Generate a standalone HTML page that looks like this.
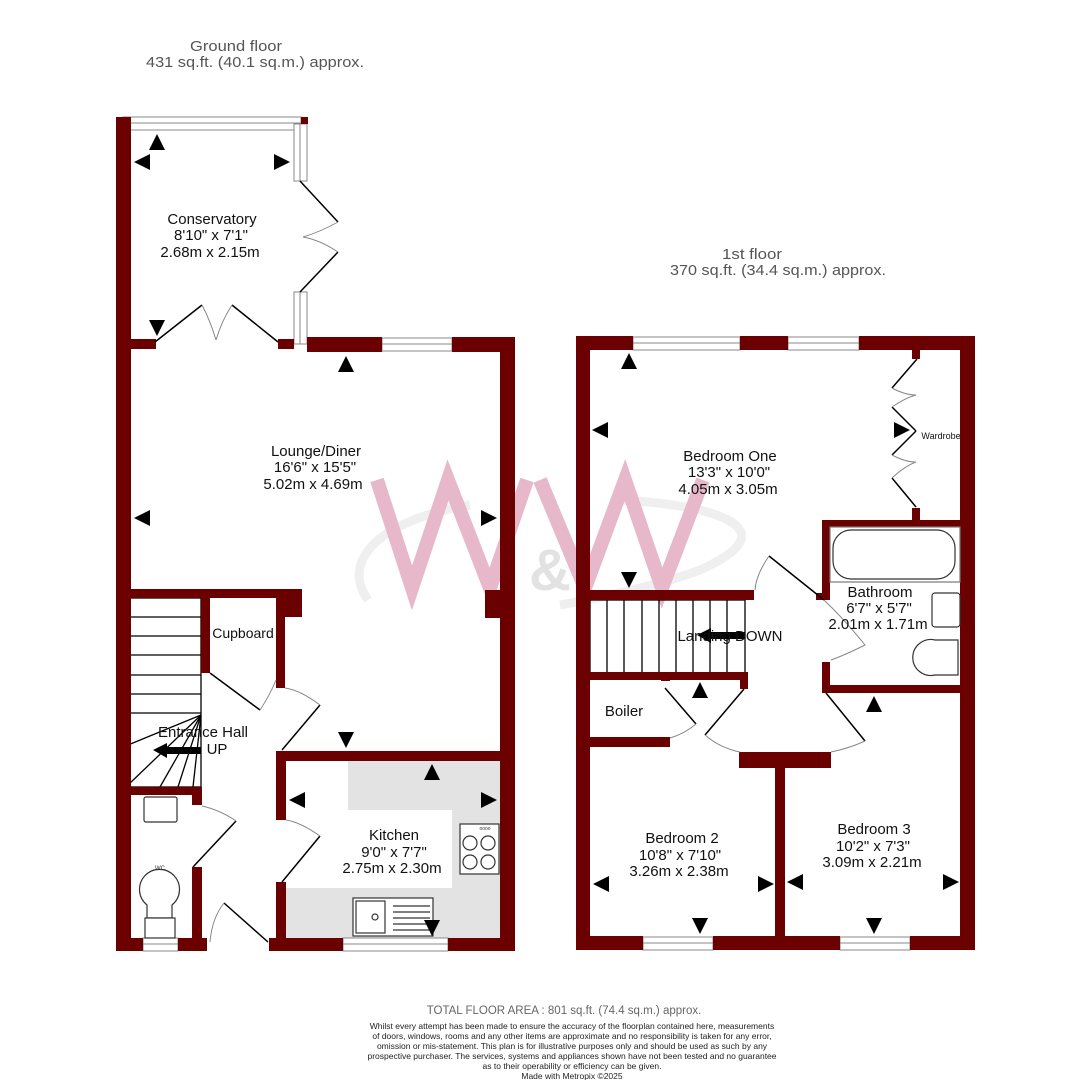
<!DOCTYPE html>
<html><head><meta charset="utf-8"><style>
html,body{margin:0;padding:0;background:#fff;}
svg{display:block;font-family:"Liberation Sans",Arial,sans-serif;}
</style></head><body>
<svg width="1090" height="1080" viewBox="0 0 1090 1080" xmlns="http://www.w3.org/2000/svg">
<g fill="#555" font-size="15" text-anchor="middle">
<text x="236" y="51" textLength="92" lengthAdjust="spacingAndGlyphs">Ground floor</text>
<text x="255" y="67" textLength="218" lengthAdjust="spacingAndGlyphs">431 sq.ft. (40.1 sq.m.) approx.</text>
<text x="752" y="259" textLength="60" lengthAdjust="spacingAndGlyphs">1st floor</text>
<text x="778" y="275" textLength="216" lengthAdjust="spacingAndGlyphs">370 sq.ft. (34.4 sq.m.) approx.</text>
</g>

<g fill="#e3e3e3">
<rect x="348" y="761" width="152" height="49"/>
<rect x="452" y="808" width="48" height="82"/>
<rect x="286" y="888" width="214" height="50"/>
</g>

<g opacity="0.8">
<path d="M368,600 C340,560 380,520 470,505 M620,500 C720,505 790,530 700,570 C660,585 600,598 560,605" fill="none" stroke="#ececec" stroke-width="9"/>
<polyline points="377,480 412,588 448,480 490,588 527,480" fill="none" stroke="#e2a6bd" stroke-width="14"/>
<polyline points="540,480 585,588 625,480 662,588 703,480" fill="none" stroke="#e2a6bd" stroke-width="14"/>
<text x="550" y="590" font-size="58" font-weight="bold" fill="#dcdcdc" text-anchor="middle">&amp;</text>
</g>

<g stroke="#000" stroke-width="1.3" fill="none">
<rect x="128" y="598" width="73" height="189"/>
<line x1="128" y1="617" x2="201" y2="617"/>
<line x1="128" y1="636" x2="201" y2="636"/>
<line x1="128" y1="655" x2="201" y2="655"/>
<line x1="128" y1="675" x2="201" y2="675"/>
<line x1="128" y1="694" x2="201" y2="694"/>
<line x1="128" y1="713" x2="201" y2="713"/>
<line x1="201" y1="715" x2="128" y2="745"/>
<line x1="201" y1="715" x2="128" y2="785"/>
<line x1="201" y1="715" x2="160" y2="787"/>
<line x1="201" y1="715" x2="178" y2="787"/>
<line x1="201" y1="715" x2="193" y2="787"/>
</g>
<g stroke="#000" stroke-width="1.3" fill="none">
<rect x="590" y="600" width="155" height="73"/>
<line x1="607" y1="600" x2="607" y2="673"/><line x1="624" y1="600" x2="624" y2="673"/>
<line x1="642" y1="600" x2="642" y2="673"/><line x1="659" y1="600" x2="659" y2="673"/>
<line x1="676" y1="600" x2="676" y2="673"/><line x1="693" y1="600" x2="693" y2="673"/>
<line x1="710" y1="600" x2="710" y2="673"/><line x1="727" y1="600" x2="727" y2="673"/>
</g>

<g fill="#fff" stroke="#888" stroke-width="1">
<rect x="123" y="117" width="178" height="13"/><line x1="123" y1="123" x2="301" y2="123"/>
<rect x="294" y="124" width="13" height="57"/><line x1="300" y1="124" x2="300" y2="181"/>
<rect x="294" y="292" width="13" height="52"/><line x1="300" y1="292" x2="300" y2="344"/>
<rect x="382" y="338" width="70" height="13"/><line x1="382" y1="344" x2="452" y2="344"/>
<rect x="143" y="938" width="35" height="13"/><line x1="143" y1="944" x2="178" y2="944"/>
<rect x="343" y="938" width="105" height="13"/><line x1="343" y1="944" x2="448" y2="944"/>
<rect x="633" y="337" width="107" height="13"/><line x1="633" y1="343" x2="740" y2="343"/>
<rect x="788" y="337" width="71" height="13"/><line x1="788" y1="343" x2="859" y2="343"/>
<rect x="643" y="937" width="70" height="13"/><line x1="643" y1="943" x2="713" y2="943"/>
<rect x="840" y="937" width="70" height="13"/><line x1="840" y1="943" x2="910" y2="943"/>
</g>

<g fill="#6b0000">
<rect x="116" y="117" width="15" height="834"/>
<rect x="301" y="117" width="7" height="7"/>
<rect x="131" y="339" width="25" height="10"/>
<rect x="278" y="339" width="16" height="10"/>
<rect x="307" y="337" width="75" height="15"/>
<rect x="452" y="337" width="63" height="15"/>
<rect x="500" y="337" width="15" height="614"/>
<rect x="116" y="589" width="169" height="9"/>
<rect x="285" y="589" width="17" height="28"/>
<rect x="485" y="590" width="15" height="28"/>
<rect x="201" y="598" width="9" height="75"/>
<rect x="276" y="598" width="9" height="90"/>
<rect x="116" y="787" width="86" height="8"/>
<rect x="192" y="787" width="10" height="18"/>
<rect x="192" y="867" width="10" height="76"/>
<rect x="276" y="751" width="224" height="10"/>
<rect x="276" y="751" width="10" height="69"/>
<rect x="276" y="882" width="10" height="61"/>
<rect x="116" y="938" width="27" height="13"/>
<rect x="178" y="938" width="29" height="13"/>
<rect x="269" y="938" width="74" height="13"/>
<rect x="448" y="938" width="67" height="13"/>
<rect x="576" y="336" width="14" height="614"/>
<rect x="576" y="336" width="57" height="14"/>
<rect x="740" y="336" width="48" height="14"/>
<rect x="859" y="336" width="116" height="14"/>
<rect x="960" y="336" width="15" height="614"/>
<rect x="576" y="936" width="67" height="14"/>
<rect x="713" y="936" width="127" height="14"/>
<rect x="910" y="936" width="65" height="14"/>
<rect x="775" y="760" width="10" height="180"/>
<rect x="739" y="752" width="92" height="16"/>
<rect x="912" y="350" width="8" height="9"/>
<rect x="912" y="508" width="8" height="12"/>
<rect x="822" y="520" width="153" height="7"/>
<rect x="822" y="520" width="8" height="80"/>
<rect x="816" y="593" width="14" height="7"/>
<rect x="822" y="662" width="8" height="31"/>
<rect x="822" y="685" width="140" height="8"/>
<rect x="590" y="590" width="164" height="10"/>
<rect x="590" y="672" width="158" height="8"/>
<rect x="661" y="672" width="9" height="9"/>
<rect x="740" y="672" width="8" height="17"/>
<rect x="590" y="737" width="80" height="10"/>
</g>

<g fill="none" stroke="#000" stroke-width="1.5">
<line x1="300" y1="181" x2="338" y2="222"/><line x1="300" y1="292" x2="338" y2="252"/>
<line x1="155" y1="342" x2="202" y2="305"/><line x1="278" y1="342" x2="232" y2="305"/>
<line x1="210" y1="673" x2="260" y2="710"/>
<line x1="282" y1="750" x2="320" y2="705"/>
<line x1="193" y1="867" x2="236" y2="821"/>
<line x1="282" y1="882" x2="320" y2="836"/>
<line x1="268" y1="942" x2="224" y2="903"/>
<line x1="917" y1="359" x2="892" y2="388"/><line x1="892" y1="407" x2="916" y2="431"/>
<line x1="916" y1="431" x2="892" y2="455"/><line x1="892" y1="478" x2="916" y2="507"/>
<line x1="769" y1="556" x2="824" y2="600"/>
<line x1="665" y1="688" x2="696" y2="724"/>
<line x1="744" y1="689" x2="705" y2="735"/>
<line x1="826" y1="693" x2="865" y2="741"/>
</g>
<g fill="none" stroke="#888" stroke-width="1">
<path d="M338,222 Q320,232 303,237 Q320,240 338,252"/>
<path d="M202,305 Q210,320 216,340 M232,305 Q222,320 216,340"/>
<path d="M260,710 Q270,695 276,680"/>
<path d="M320,705 Q300,690 285,688"/>
<path d="M236,821 Q220,810 202,806"/>
<path d="M320,836 Q300,822 286,820"/>
<path d="M224,903 Q212,918 210,942"/>
<path d="M892,388 Q905,395 916,395 Q905,398 892,407"/>
<path d="M892,455 Q905,462 916,462 Q905,466 892,478"/>
<path d="M769,556 Q756,575 755,590"/>
<path d="M824,600 Q845,620 865,645 Q845,655 831,660"/>
<path d="M696,724 Q684,734 670,738"/>
<path d="M705,735 Q720,748 740,752"/>
<path d="M865,741 Q850,748 831,752"/>
</g>

<g fill="#fff" stroke="#333" stroke-width="1.2">
<rect x="144" y="797" width="33" height="25" rx="2"/>
<path d="M147,918 L147,905 A20,20 0 1 1 172,905 L172,918 Z"/>
<rect x="145" y="918" width="30" height="20"/>
<rect x="460" y="824" width="39" height="50"/>
<circle cx="470" cy="843" r="7"/><circle cx="488" cy="843" r="7"/>
<circle cx="470" cy="862" r="7"/><circle cx="488" cy="862" r="7"/>
<rect x="353" y="898" width="80" height="38"/>
<rect x="356" y="901" width="29" height="32"/>
<circle cx="375" cy="917" r="3"/>
<line x1="393" y1="906" x2="430" y2="906"/><line x1="393" y1="912" x2="430" y2="912"/>
<line x1="393" y1="918" x2="430" y2="918"/><line x1="393" y1="924" x2="430" y2="924"/><line x1="393" y1="930" x2="430" y2="930"/>
<rect x="830" y="527" width="130" height="55" stroke="#777"/>
<rect x="833" y="530" width="122" height="49" rx="18"/>
<rect x="932" y="593" width="28" height="34" rx="3"/>
<path d="M958,640 L935,640 A18,18 0 1 0 935,675 L958,675 Z"/>
</g>
<text x="160" y="870" font-size="6" fill="#333" text-anchor="middle">WC</text>
<text x="485" y="830" font-size="5" fill="#333" text-anchor="middle">oooo</text>

<g fill="#000">
<path d="M157,134 l-8,16 h16z"/><path d="M134,162 l16,-8 v16z"/><path d="M290,162 l-16,-8 v16z"/>
<path d="M157,336 l-8,-16 h16z"/><path d="M346,356 l-8,16 h16z"/>
<path d="M134,518 l16,-8 v16z"/><path d="M497,518 l-16,-8 v16z"/>
<path d="M346,748 l-8,-16 h16z"/><path d="M432,764 l-8,16 h16z"/>
<path d="M289,800 l16,-8 v16z"/><path d="M497,800 l-16,-8 v16z"/>
<path d="M432,936 l-8,-16 h16z"/>
<path d="M629,353 l-8,16 h16z"/><path d="M592,430 l16,-8 v16z"/><path d="M910,430 l-16,-8 v16z"/>
<path d="M629,588 l-8,-16 h16z"/><path d="M700,682 l-8,16 h16z"/><path d="M874,696 l-8,16 h16z"/>
<path d="M593,884 l16,-8 v16z"/><path d="M774,884 l-16,-8 v16z"/>
<path d="M787,882 l16,-8 v16z"/><path d="M959,882 l-16,-8 v16z"/>
<path d="M700,934 l-8,-16 h16z"/><path d="M874,934 l-8,-16 h16z"/>
<path d="M153,750 l14,-7 v4 h34 v7 h-34 v4z"/>
<path d="M697,635 l14,-7 v4 h34 v7 h-34 v4z"/>
</g>

<g fill="#111" font-size="15" text-anchor="middle">
<text x="212" y="224">Conservatory</text><text x="211" y="240">8'10"  x 7'1"</text><text x="210" y="257">2.68m  x 2.15m</text>
<text x="316" y="456">Lounge/Diner</text><text x="315" y="472">16'6"  x 15'5"</text><text x="313" y="489">5.02m  x 4.69m</text>
<text x="243" y="638" font-size="14">Cupboard</text>
<text x="203" y="737">Entrance Hall</text><text x="217" y="754">UP</text>
<text x="394" y="840">Kitchen</text><text x="394" y="857">9'0"  x 7'7"</text><text x="392" y="873">2.75m  x 2.30m</text>
<text x="730" y="461">Bedroom One</text><text x="729" y="477">13'3"  x 10'0"</text><text x="728" y="494">4.05m  x 3.05m</text>
<text x="941" y="439" font-size="9">Wardrobe</text>
<text x="880" y="597">Bathroom</text><text x="879" y="613">6'7"  x 5'7"</text><text x="878" y="629">2.01m  x 1.71m</text>
<text x="730" y="641">Landing DOWN</text>
<text x="624" y="716">Boiler</text>
<text x="682" y="843">Bedroom 2</text><text x="680" y="860">10'8"  x 7'10"</text><text x="679" y="876">3.26m  x 2.38m</text>
<text x="874" y="834">Bedroom 3</text><text x="873" y="851">10'2"  x 7'3"</text><text x="872" y="867">3.09m  x 2.21m</text>
</g>

<g text-anchor="middle">
<text x="564" y="1014" font-size="11.5" fill="#666">TOTAL FLOOR AREA : 801 sq.ft. (74.4 sq.m.) approx.</text>
<g font-size="8.5" fill="#222">
<text x="572" y="1029">Whilst every attempt has been made to ensure the accuracy of the floorplan contained here, measurements</text>
<text x="572" y="1039">of doors, windows, rooms and any other items are approximate and no responsibility is taken for any error,</text>
<text x="572" y="1049">omission or mis-statement. This plan is for illustrative purposes only and should be used as such by any</text>
<text x="572" y="1059">prospective purchaser. The services, systems and appliances shown have not been tested and no guarantee</text>
<text x="572" y="1069">as to their operability or efficiency can be given.</text>
<text x="572" y="1079">Made with Metropix ©2025</text>
</g></g>
</svg>
</body></html>
